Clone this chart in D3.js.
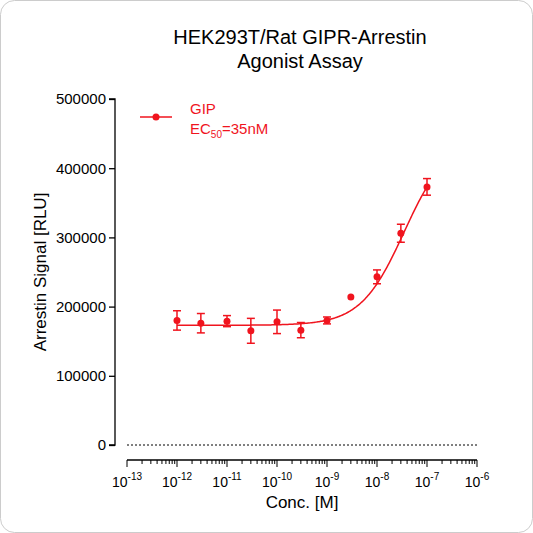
<!DOCTYPE html>
<html lang="en">
<head>
<meta charset="UTF-8">
<script src="https://cdn.jsdelivr.net/npm/d3@7"></script>
<style>
  body { margin: 0; background: #fff; }
  svg { font-family: Arial, "Liberation Sans", sans-serif; }
</style>
</head>
<body>
<svg width="533" height="533"></svg>
<script>
// data
const conc = [1e-12, 3e-12, 1e-11, 3e-11, 1e-10, 3e-10, 1e-9, 3e-9, 1e-8, 3e-8, 1e-7];
const signal = [180000, 176000, 179000, 165000, 178000, 166000, 180000, 214000, 243000, 306000, 373000];
const errs = [14000, 14000, 8000, 18000, 17000, 11000, 5000, 0, 10000, 13000, 12000];
// fitted curve parameters
const fitBottom = 173000, fitTop = 443000, ec50 = 3.5e-8, hill = 1;
const yTicks = [0, 100000, 200000, 300000, 400000, 500000];
const red = "#f0141e";

const svg = d3.select("svg");
svg.append("rect").attr("x", 0.5).attr("y", 0.5).attr("width", 532).attr("height", 532)
  .attr("rx", 14).attr("fill", "#fff").attr("stroke", "#ccc");

const x = d3.scaleLog().domain([1e-13, 1e-6]).range([127, 477]);
const y = d3.scaleLinear().domain([0, 500000]).range([445, 99]);

// title
svg.append("text").attr("x", 300).attr("y", 44).attr("text-anchor", "middle")
  .attr("font-size", 20).text("HEK293T/Rat GIPR-Arrestin");
svg.append("text").attr("x", 300).attr("y", 68).attr("text-anchor", "middle")
  .attr("font-size", 20).text("Agonist Assay");

// y axis
const ya = svg.append("g").attr("transform", "translate(115,0)")
  .call(d3.axisLeft(y).tickValues(yTicks).tickFormat(d3.format("d")).tickSize(6));
ya.selectAll("text").attr("font-size", 15).attr("fill", "#000");
ya.selectAll("line,path").attr("stroke", "#000").attr("stroke-width", 1.3);
ya.select(".domain").attr("d", `M-6,${y(0)}H0V${y(500000)}H-6`);

// x axis with minor ticks
const xa = svg.append("g").attr("transform", "translate(0,460)");
xa.append("line").attr("x1", x(1e-13)).attr("x2", x(1e-6)).attr("stroke", "#000").attr("stroke-width", 1.3);
for (let e = -13; e <= -6; e++) {
  for (let m = 1; m <= 9; m++) {
    if (e === -6 && m > 1) break;
    const v = m * Math.pow(10, e);
    xa.append("line").attr("x1", x(v)).attr("x2", x(v)).attr("y1", 0)
      .attr("y2", m === 1 ? 7 : 4).attr("stroke", "#000").attr("stroke-width", 1);
  }
  const t = xa.append("text").attr("x", x(Math.pow(10, e))).attr("y", 27)
    .attr("text-anchor", "middle").attr("font-size", 14);
  t.append("tspan").text("10");
  t.append("tspan").attr("dy", -7).attr("font-size", 10).text(e);
}

// baseline dotted
svg.append("line").attr("x1", x(1e-13)).attr("x2", x(1e-6)).attr("y1", y(0)).attr("y2", y(0))
  .attr("stroke", "#000").attr("stroke-dasharray", "2,2");

// axis labels
svg.append("text").attr("transform", `translate(46,${272}) rotate(-90)`).attr("text-anchor", "middle")
  .attr("font-size", 17).text("Arrestin Signal [RLU]");
svg.append("text").attr("x", 302).attr("y", 508).attr("text-anchor", "middle")
  .attr("font-size", 17).text("Conc. [M]");

// fitted curve
const curveX = d3.range(-12, -6.99, 0.02).map(e => Math.pow(10, e));
const f = c => fitBottom + (fitTop - fitBottom) / (1 + Math.pow(ec50 / c, hill));
svg.append("path").datum(curveX)
  .attr("d", d3.line().x(d => x(d)).y(d => y(f(d))))
  .attr("fill", "none").attr("stroke", red).attr("stroke-width", 1.5);

// error bars and points
const g = svg.append("g");
conc.forEach((c, i) => {
  const cx = x(c), lo = y(signal[i] - errs[i]), hi = y(signal[i] + errs[i]);
  if (errs[i] > 0) {
    g.append("line").attr("x1", cx).attr("x2", cx).attr("y1", lo).attr("y2", hi).attr("stroke", red).attr("stroke-width", 1.5);
    [lo, hi].forEach(yy => g.append("line").attr("x1", cx - 4).attr("x2", cx + 4).attr("y1", yy).attr("y2", yy)
      .attr("stroke", red).attr("stroke-width", 1.5));
  }
  g.append("circle").attr("cx", cx).attr("cy", y(signal[i])).attr("r", 3.5).attr("fill", red);
});

// legend
svg.append("line").attr("x1", 140).attr("x2", 172).attr("y1", 117).attr("y2", 117).attr("stroke", red).attr("stroke-width", 1.5);
svg.append("circle").attr("cx", 156).attr("cy", 117).attr("r", 3.5).attr("fill", red);
svg.append("text").attr("x", 190).attr("y", 114).attr("font-size", 15).attr("fill", red).text("GIP");
const ec = svg.append("text").attr("x", 190).attr("y", 134).attr("font-size", 15).attr("fill", red);
ec.append("tspan").text("EC");
ec.append("tspan").attr("dy", 4).attr("font-size", 10).text("50");
ec.append("tspan").attr("dy", -4).text("=35nM");
</script>
</body>
</html>
